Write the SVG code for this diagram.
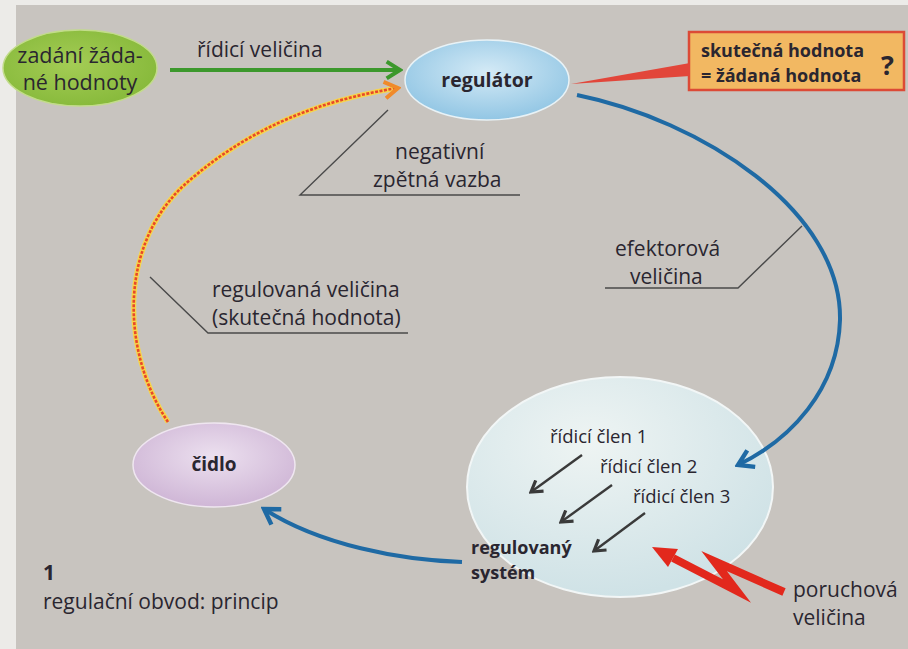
<svg xmlns="http://www.w3.org/2000/svg" width="908" height="649" viewBox="0 0 908 649">
<defs>
<style>
text{font-family:"Open Sans","Noto Sans","DejaVu Sans",sans-serif;fill:#2a2630}
.t{font-size:21px}
.b{font-size:18px;font-weight:bold}
.s{font-size:18.5px}
.lead{fill:none;stroke:#4a4a4a;stroke-width:1.4}
</style>
<radialGradient id="gGreen" cx="0.45" cy="0.45" r="0.6"><stop offset="0" stop-color="#a4cc55"/><stop offset="1" stop-color="#86b93a"/></radialGradient>
<radialGradient id="gBlue" cx="0.5" cy="0.4" r="0.6"><stop offset="0" stop-color="#d4eaf6"/><stop offset="1" stop-color="#92c6e4"/></radialGradient>
<radialGradient id="gLilac" cx="0.5" cy="0.4" r="0.6"><stop offset="0" stop-color="#ece0ef"/><stop offset="1" stop-color="#cfb6d6"/></radialGradient>
<radialGradient id="gSys" cx="0.4" cy="0.3" r="0.7"><stop offset="0" stop-color="#eef4f3"/><stop offset="1" stop-color="#cfe2e6"/></radialGradient>
<marker id="mGreen" viewBox="0 0 12 12" refX="10" refY="6" markerUnits="userSpaceOnUse" markerWidth="20" markerHeight="20" orient="auto"><path d="M2,1 L10,6 L2,11" fill="none" stroke="#3c982c" stroke-width="2.4"/></marker>
<marker id="mBlue" viewBox="0 0 12 12" refX="10" refY="6" markerUnits="userSpaceOnUse" markerWidth="22" markerHeight="22" orient="auto"><path d="M2,1 L10,6 L2,11" fill="none" stroke="#1f6aa4" stroke-width="2.4"/></marker>
<marker id="mOrange" viewBox="0 0 12 12" refX="10" refY="6" markerUnits="userSpaceOnUse" markerWidth="20" markerHeight="20" orient="auto"><path d="M2,1 L10,6 L2,11" fill="none" stroke="#f08a2a" stroke-width="2.4"/></marker>
<marker id="mDark" viewBox="0 0 12 12" refX="10" refY="6" markerUnits="userSpaceOnUse" markerWidth="16" markerHeight="16" orient="auto"><path d="M2,1 L10,6 L2,11" fill="none" stroke="#3a3a3a" stroke-width="2.4"/></marker>
</defs>
<rect width="908" height="649" fill="#c8c4bf"/>
<rect width="16" height="649" fill="#ecebe8"/>
<rect width="908" height="5" fill="#ecebe8"/>

<g id="zadani">
<ellipse cx="80" cy="68" rx="77" ry="38" fill="url(#gGreen)" stroke="#c2dc8a" stroke-width="1.5"/>
<text x="80" y="63" text-anchor="middle" style="font-size:21.5px">zadání žáda-</text>
<text x="80" y="90" text-anchor="middle" style="font-size:21.5px">né hodnoty</text>
</g>

<g id="regulator">
<ellipse cx="487" cy="80" rx="82" ry="40" fill="url(#gBlue)" stroke="#e8f2f6" stroke-width="1.5"/>
<text x="487" y="87" text-anchor="middle" style="font-size:19.5px;font-weight:bold">regulátor</text>
</g>

<g id="podminka">
<rect x="689" y="32" width="215" height="58" fill="#f2b862" stroke="#dc4a36" stroke-width="2.5"/>
<text class="b" x="701" y="57">skutečná hodnota</text>
<text class="b" x="701" y="82">= žádaná  hodnota</text>
<text x="881" y="75" style="font-size:27px;font-weight:bold">?</text>
</g>

<g id="system">
<ellipse cx="620" cy="487" rx="153" ry="110" fill="url(#gSys)" stroke="#f2f6f6" stroke-width="2"/>
<text class="s" x="550" y="443">řídicí člen 1</text>
<text class="s" x="600" y="473">řídicí člen 2</text>
<text class="s" x="633" y="503">řídicí člen 3</text>
<path d="M582 455 L531 492" fill="none" stroke="#3a3a3a" stroke-width="2.4" marker-end="url(#mDark)"/>
<path d="M612 485 L561 522" fill="none" stroke="#3a3a3a" stroke-width="2.4" marker-end="url(#mDark)"/>
<path d="M645 513 L594 551" fill="none" stroke="#3a3a3a" stroke-width="2.4" marker-end="url(#mDark)"/>
<text x="471" y="554" style="font-size:18px;font-weight:bold">regulovaný</text>
<text x="471" y="579" style="font-size:18px;font-weight:bold">systém</text>
</g>

<g id="cidlo">
<ellipse cx="214" cy="465" rx="81" ry="42" fill="url(#gLilac)" stroke="#efe6f0" stroke-width="1.5"/>
<text x="214" y="471" text-anchor="middle" style="font-size:19px;font-weight:bold">čidlo</text>
</g>

<g id="connectors">
<path d="M170 70 L400 70" fill="none" stroke="#3c982c" stroke-width="4" marker-end="url(#mGreen)"/>
<path d="M168 422 C120 350 118 240 190 180 C250 128 320 100 398 88" fill="none" stroke="#f7d54a" stroke-width="5"/>
<path d="M168 422 C120 350 118 240 190 180 C250 128 320 100 398 88" fill="none" stroke="#e8482a" stroke-width="2.6" stroke-dasharray="3 1.5" marker-end="url(#mOrange)"/>
<path d="M577 95 C700 120 842 210 840 320 C838 390 790 440 738 465" fill="none" stroke="#1f6aa4" stroke-width="4" marker-end="url(#mBlue)"/>
<path d="M462 562 C400 560 320 545 264 509" fill="none" stroke="#1f6aa4" stroke-width="4" marker-end="url(#mBlue)"/>
<polygon points="571,84 690,63 690,76" fill="#e2463a"/>
<polyline class="lead" points="388,110 300,195 520,195"/>
<polyline class="lead" points="802,226 738,288 605,288"/>
<polyline class="lead" points="150,277 208,333 408,333"/>
</g>

<text class="t" x="197" y="57">řídicí veličina</text>
<g id="negativni">
<text class="t" x="395" y="159">negativní</text>
<text class="t" x="373" y="187">zpětná vazba</text>
</g>
<g id="efektorova">
<text class="t" x="615" y="256">efektorová</text>
<text class="t" x="630" y="284">veličina</text>
</g>
<g id="regulovana">
<text class="t" x="212" y="297">regulovaná veličina</text>
<text class="t" x="212" y="325">(skutečná hodnota)</text>
</g>

<g id="porucha">
<polyline points="673,558 737,591 714,561 784,592" fill="none" stroke="#e2281c" stroke-width="8" stroke-linejoin="miter" stroke-miterlimit="10"/>
<polygon points="652,547 678,549 668,567" fill="#e2281c"/>
<text class="t" x="793" y="597">poruchová</text>
<text class="t" x="793" y="625">veličina</text>
</g>

<g id="caption">
<text x="43" y="580" style="font-size:21px;font-weight:bold">1</text>
<text class="t" x="43" y="609">regulační obvod: princip</text>
</g>
</svg>
